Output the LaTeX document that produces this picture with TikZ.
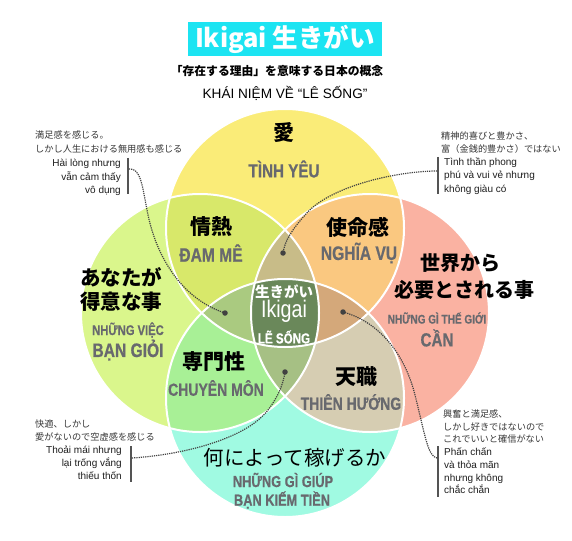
\documentclass[tikz,border=0pt]{standalone}
\usepackage{fontspec}
\setmainfont{Liberation Sans}
\newfontfamily\jp{Noto Sans CJK JP}
\newfontfamily\cond[FakeStretch=0.82]{Liberation Sans}
\newfontfamily\condb[FakeStretch=0.8,FakeBold=0.6]{Liberation Sans Bold}
\newcommand{\fsz}[1]{\fontsize{#1}{#1}\selectfont}
\definecolor{cTop}{RGB}{250,236,120}
\definecolor{cLeft}{RGB}{218,246,140}
\definecolor{cRight}{RGB}{250,178,162}
\definecolor{cBottom}{RGB}{160,250,226}
\definecolor{cTL}{RGB}{216,232,106}
\definecolor{cTR}{RGB}{250,200,128}
\definecolor{cBL}{RGB}{168,240,150}
\definecolor{cBR}{RGB}{214,205,178}
\definecolor{cTLR}{RGB}{200,188,136}
\definecolor{cTLB}{RGB}{170,202,128}
\definecolor{cTRB}{RGB}{212,168,122}
\definecolor{cBLR}{RGB}{166,192,132}
\definecolor{cCenter}{RGB}{106,136,90}
\definecolor{cTitle}{RGB}{28,228,242}
\definecolor{lblgray}{RGB}{104,105,110}
\definecolor{jpnote}{RGB}{55,55,55}
\definecolor{vnnote}{RGB}{30,30,30}
\definecolor{connc}{RGB}{65,65,65}
\tikzset{
  lbl/.style={inner sep=0, text=lblgray},
  jlbl/.style={inner sep=0, text=black},
  jnote/.style={inner sep=0, text=jpnote, font=\jp\fsz{9.2}},
  vnote/.style={inner sep=0, text=vnnote, font=\fsz{10}},
  barline/.style={draw=connc!90!white, line width=2pt},
  conn/.style={draw=connc, line width=1.2pt, densely dotted},
  dotn/.style={circle, fill=connc, inner sep=0, minimum size=5.5pt},
}
\def\rr{119pt}
\begin{document}
\begin{tikzpicture}[x=1pt,y=-1pt]
\useasboundingbox (0,0) rectangle (572,540);
\fill[white] (0,0) rectangle (572,540);
\coordinate (T) at (285,228);
\coordinate (L) at (200,313);
\coordinate (R) at (370,313);
\coordinate (B) at (285,398);
% base circles
\fill[cTop] (T) circle (\rr);
\fill[cLeft] (L) circle (\rr);
\fill[cRight] (R) circle (\rr);
\fill[cBottom] (B) circle (\rr);
% pairwise
\begin{scope}\clip (T) circle (\rr); \fill[cTL] (L) circle (\rr); \fill[cTR] (R) circle (\rr);\end{scope}
\begin{scope}\clip (B) circle (\rr); \fill[cBL] (L) circle (\rr); \fill[cBR] (R) circle (\rr);\end{scope}
% triples
\begin{scope}\clip (T) circle (\rr); \clip (L) circle (\rr); \fill[cTLR] (R) circle (\rr);\end{scope}
\begin{scope}\clip (T) circle (\rr); \clip (L) circle (\rr); \fill[cTLB] (B) circle (\rr);\end{scope}
\begin{scope}\clip (T) circle (\rr); \clip (R) circle (\rr); \fill[cTRB] (B) circle (\rr);\end{scope}
\begin{scope}\clip (B) circle (\rr); \clip (L) circle (\rr); \fill[cBLR] (R) circle (\rr);\end{scope}
% center
\begin{scope}\clip (T) circle (\rr); \clip (L) circle (\rr); \clip (R) circle (\rr); \fill[cCenter] (B) circle (\rr);\end{scope}
% white outlines
\foreach \c in {T,L,R,B} \draw[white, line width=2pt] (\c) circle (\rr);

% title
\node[fill=cTitle, minimum width=194pt, minimum height=34pt, inner sep=0, text=white, font=\jp\bfseries\fsz{25.5}] (title) at (285,39) {Ikigai 生きがい};
\node[inner sep=0, font=\jp\bfseries\fsz{11.8}] (sub1) at (277,71) {「存在する理由」を意味する日本の概念};
\node[inner sep=0, font=\fsz{13.6}] (sub2) at (285,93) {KHÁI NIỆM VỀ “LÊ SỐNG”};

% region labels
\node[jlbl, font=\jp\bfseries\fsz{21}] (ai) at (284,133) {愛};
\node[lbl, font=\condb\fsz{19}] (tinhyeu) at (284,169) {TÌNH YÊU};
\node[jlbl, font=\jp\bfseries\fsz{21}] (jonetsu) at (211,227) {情熱};
\node[lbl, font=\condb\fsz{19.5}] (damme) at (211,253) {ĐAM MÊ};
\node[jlbl, font=\jp\bfseries\fsz{21}] (shimei) at (358,227) {使命感};
\node[lbl, font=\condb\fsz{19.5}] (nghiavu) at (359,253) {NGHĨA VỤ};
\node[jlbl, font=\jp\bfseries\fsz{20.5}] (anata1) at (121,277) {あなたが};
\node[jlbl, font=\jp\bfseries\fsz{20.5}] (anata2) at (121,302) {得意な事};
\node[lbl, font=\condb\fsz{14}] (nhungviec) at (128,330) {NHỮNG VIỆC};
\node[lbl, font=\condb\fsz{19.5}] (bangioi) at (128,350) {BẠN GIỎI};
\node[jlbl, font=\jp\bfseries\fsz{20}] (sekai1) at (460,263) {世界から};
\node[jlbl, font=\jp\bfseries\fsz{20}] (sekai2) at (464,290) {必要とされる事};
\node[lbl, font=\condb\fsz{12.5}] (thegioi) at (437,318) {NHỮNG GÌ THẾ GIỚI};
\node[lbl, font=\condb\fsz{19}] (can) at (437,338) {CẦN};
\node[jlbl, font=\jp\bfseries\fsz{21}] (senmon) at (214,362) {専門性};
\node[lbl, font=\condb\fsz{17.5}] (chuyenmon) at (216,388) {CHUYÊN MÔN};
\node[jlbl, font=\jp\bfseries\fsz{21}] (tenshoku) at (356,377) {天職};
\node[lbl, font=\condb\fsz{17.5}] (thienhuong) at (351,402) {THIÊN HƯỚNG};
\node[inner sep=0, font=\jp\fsz{20.5}] (kasegu) at (295,458) {何によって稼げるか};
\node[lbl, font=\condb\fsz{16}] (giup) at (283,480) {NHỮNG GÌ GIÚP};
\node[lbl, font=\condb\fsz{16}] (kiemtien) at (282,500) {BẠN KIẾM TIỀN};
% center
\node[inner sep=0, text=white, font=\jp\bfseries\fsz{14.5}] (cik1) at (284,292) {生きがい};
\node[inner sep=0, text=white, font=\cond\fsz{24}] (cik2) at (284,311) {Ikigai};
\node[inner sep=0, text=white, font=\condb\fsz{14.5}] (cik3) at (284,337) {LẼ SỐNG};

% annotations: top-left
\node[jnote, anchor=base west] (na1) at (35,138.5) {満足感を感じる。};
\node[jnote, anchor=base west] (na2) at (35,152.5) {しかし人生における無用感も感じる};
\node[vnote, anchor=base east] (na3) at (121,166.5) {Hài lòng nhưng};
\node[vnote, anchor=base east] (na4) at (121,180) {vẫn cảm thấy};
\node[vnote, anchor=base east] (na5) at (121,193) {vô dụng};
% top-right
\node[jnote, anchor=base west] (nb1) at (441,139.5) {精神的喜びと豊かさ、};
\node[jnote, anchor=base west] (nb2) at (441,152.5) {富（金銭的豊かさ）ではない};
\node[vnote, anchor=base west] (nb3) at (444,165.5) {Tình thần phong};
\node[vnote, anchor=base west] (nb4) at (444,178.5) {phú và vui vẻ nhưng};
\node[vnote, anchor=base west] (nb5) at (444,192) {không giàu có};
% bottom-left
\node[jnote, anchor=base west] (nc1) at (35,427.5) {快適、しかし};
\node[jnote, anchor=base west] (nc2) at (35,440.5) {愛がないので空虚感を感じる};
\node[vnote, anchor=base east] (nc3) at (122,453.5) {Thoải mái nhưng};
\node[vnote, anchor=base east] (nc4) at (122,466.5) {lại trống vắng};
\node[vnote, anchor=base east] (nc5) at (122,479) {thiếu thốn};
% bottom-right
\node[jnote, anchor=base west] (nd1) at (443,417.5) {興奮と満足感、};
\node[jnote, anchor=base west] (nd2) at (443,430) {しかし好きではないので};
\node[jnote, anchor=base west] (nd3) at (443,442.5) {これでいいと確信がない};
\node[vnote, anchor=base west] (nd4) at (444,455.5) {Phấn chấn};
\node[vnote, anchor=base west] (nd5) at (444,468.5) {và thỏa mãn};
\node[vnote, anchor=base west] (nd6) at (444,481) {nhưng không};
\node[vnote, anchor=base west] (nd7) at (444,493.5) {chắc chắn};

% bars
\coordinate (ba1) at (128,158); \coordinate (ba2) at (128,194);
\coordinate (bb1) at (438,157); \coordinate (bb2) at (438,194);
\coordinate (bc1) at (131,446); \coordinate (bc2) at (131,482);
\coordinate (bd1) at (438,446); \coordinate (bd2) at (438,497);
\draw[barline] (ba1) -- (ba2);
\draw[barline] (bb1) -- (bb2);
\draw[barline] (bc1) -- (bc2);
\draw[barline] (bd1) -- (bd2);
% connector ends
\coordinate (ea) at (129,169);
\coordinate (eb) at (437,171);
\coordinate (ec) at (132,458);
\coordinate (ed) at (437,458);
\coordinate (pa) at (225,313);
\coordinate (pb) at (283,253);
\coordinate (pc) at (285,372);
\coordinate (pd) at (343,312);
\draw[conn] (ea) .. controls (141,168) and (142,185) .. (148,215) .. controls (158,262) and (185,300) .. (pa);
\draw[conn] (eb) .. controls (400,171) and (330,185) .. (305,215) .. controls (292,230) and (285,240) .. (pb);
\draw[conn] (ec) .. controls (180,455) and (245,440) .. (268,410) .. controls (278,397) and (283,385) .. (pc);
\draw[conn] (pd) .. controls (380,322) and (405,355) .. (415,395) .. controls (425,435) and (428,457) .. (ed);
\node[dotn] (da) at (pa) {};
\node[dotn] (db) at (pb) {};
\node[dotn] (dc) at (pc) {};
\node[dotn] (dd) at (pd) {};
\end{tikzpicture}
\end{document}
